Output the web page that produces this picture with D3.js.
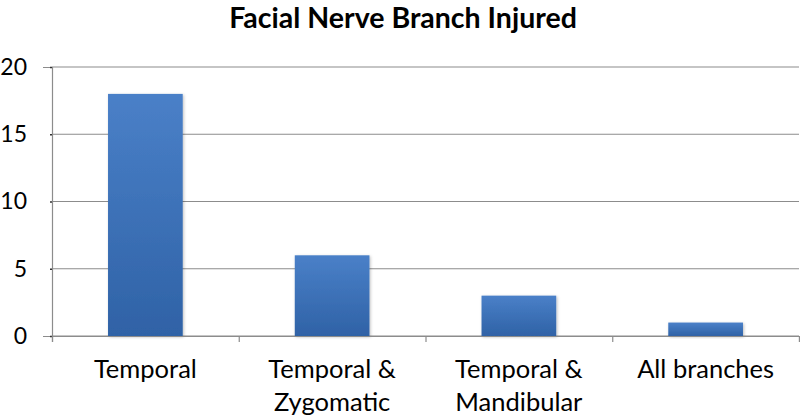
<!DOCTYPE html>
<html><head><meta charset="utf-8">
<script src="https://cdn.jsdelivr.net/npm/d3@7"></script>
<style>body{margin:0;background:#fff}</style>
</head><body>
<svg id="chart" width="800" height="420"></svg>
<script>
const categories = [["Temporal"], ["Temporal &", "Zygomatic"], ["Temporal &", "Mandibular"], ["All branches"]];
const values = [18, 6, 3, 1];
const yTicks = [0, 5, 10, 15, 20];
const title = "Facial Nerve Branch Injured";

const svg = d3.select("#chart");
const font = "Lato, 'Open Sans', sans-serif";
const plotL = 52, plotR = 799, plotT = 67, plotB = 336;

const x = d3.scaleBand().domain(d3.range(values.length)).range([plotL, plotR]).paddingInner(0.6).paddingOuter(0.3);
const y = d3.scaleLinear().domain([0, 20]).range([plotB, plotT]);

const defs = svg.append("defs");
const g = defs.append("linearGradient").attr("id", "barGrad").attr("x1", 0).attr("y1", 0).attr("x2", 0).attr("y2", 1);
g.append("stop").attr("offset", "0%").attr("stop-color", "#4a80c8");
g.append("stop").attr("offset", "100%").attr("stop-color", "#2f62a6");
const f = defs.append("filter").attr("id", "shadow").attr("x", "-20%").attr("y", "-20%").attr("width", "140%").attr("height", "140%");
f.append("feDropShadow").attr("dx", 1).attr("dy", 1).attr("stdDeviation", 1.5).attr("flood-color", "#000").attr("flood-opacity", 0.25);

// gridlines
svg.append("g").selectAll("line").data(yTicks).join("line")
  .attr("x1", plotL).attr("x2", plotR).attr("y1", d => y(d)).attr("y2", d => y(d))
  .attr("stroke", "#8c8c8c").attr("stroke-width", 1.2);

// y axis
const yAxis = d3.axisLeft(y).tickValues(yTicks).tickSize(9).tickPadding(10);
const ya = svg.append("g").attr("transform", `translate(${plotL},0)`).call(yAxis);
ya.select(".domain").attr("stroke", "#8c8c8c").attr("stroke-width", 1.2);
ya.selectAll(".tick line").attr("stroke", "#333").attr("stroke-width", 1.5).attr("stroke-dasharray", "2,7");
ya.selectAll(".tick text").attr("font-family", font).attr("font-size", 23).attr("fill", "#000").attr("x", -25);

// bars
svg.append("g").selectAll("rect").data(values).join("rect")
  .attr("x", (d, i) => x(i)).attr("width", x.bandwidth())
  .attr("y", d => y(d)).attr("height", d => y(0) - y(d))
  .attr("fill", "url(#barGrad)").attr("filter", "url(#shadow)");

// x axis
const xb = d3.scaleLinear().domain([0, values.length]).range([plotL, plotR]);
const xa = svg.append("g").attr("transform", `translate(0,${plotB})`)
  .call(d3.axisBottom(xb).tickValues(d3.range(values.length + 1)).tickSize(6).tickFormat(""));
xa.select(".domain").attr("stroke", "#8c8c8c").attr("stroke-width", 1.2);
xa.selectAll(".tick line").attr("stroke", "#8c8c8c").attr("stroke-width", 1.2);

// category labels
const lbl = svg.append("g").selectAll("text").data(categories).join("text")
  .attr("x", (d, i) => x(i) + x.bandwidth() / 2).attr("y", 378)
  .attr("text-anchor", "middle").attr("font-family", font).attr("font-size", 25.5).attr("fill", "#000");
lbl.selectAll("tspan").data(d => d).join("tspan")
  .attr("x", function () { return this.parentNode.getAttribute("x"); })
  .attr("dy", (d, i) => i === 0 ? 0 : 33).text(d => d);

// title
svg.append("text").attr("x", 403).attr("y", 28).attr("text-anchor", "middle")
  .attr("font-family", font).attr("font-weight", "bold").attr("font-size", 28.5).attr("fill", "#000").text(title);
</script>
</body></html>
